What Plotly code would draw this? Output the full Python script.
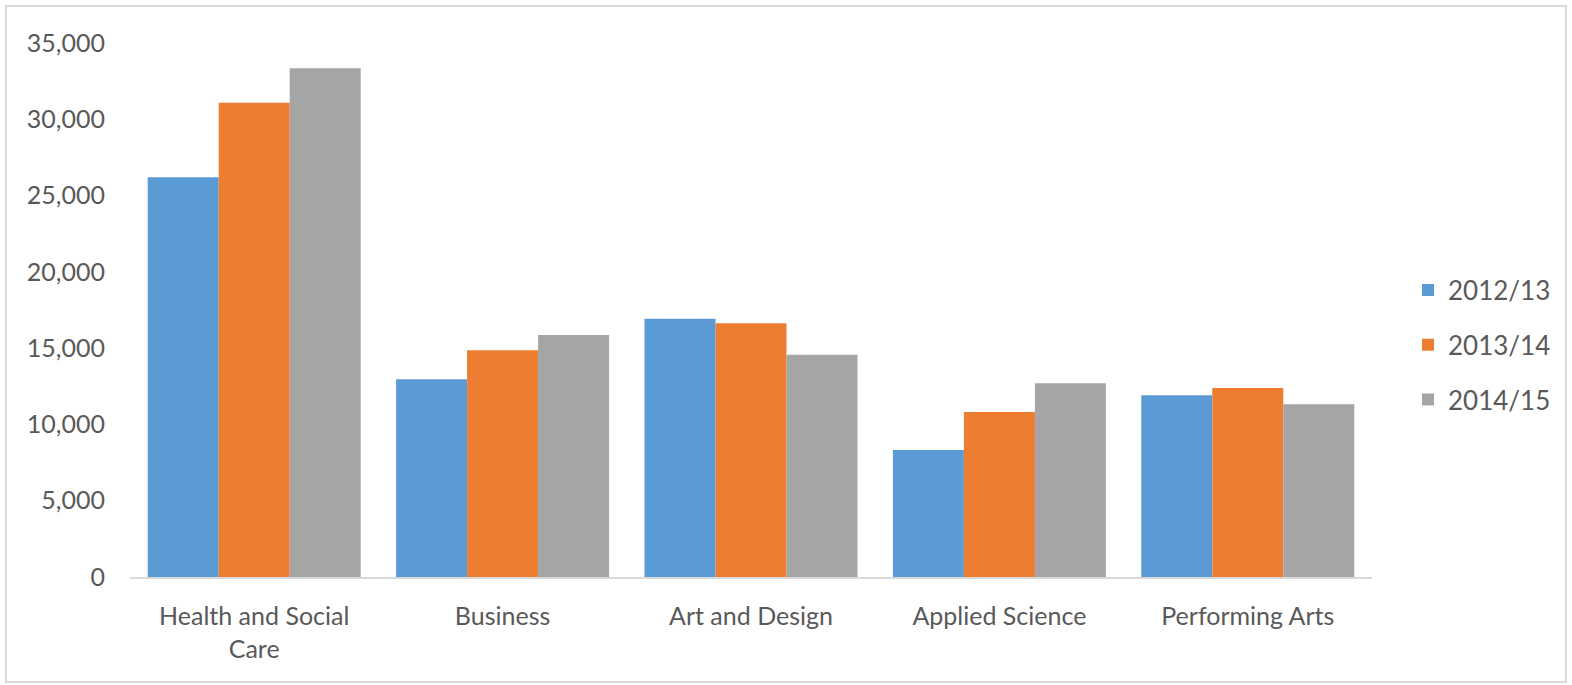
import plotly.graph_objects as go

categories = ["Health and Social<br>Care", "Business", "Art and Design", "Applied Science", "Performing Arts"]
series_names = ["2012/13", "2013/14", "2014/15"]
values_2012 = [26200, 12960, 16930, 8320, 11910]
values_2013 = [31090, 14860, 16630, 10810, 12390]
values_2014 = [33340, 15860, 14570, 12700, 11320]
colors = ["#5B9BD5", "#ED7D31", "#A5A5A5"]
y_ticks = [0, 5000, 10000, 15000, 20000, 25000, 30000, 35000]

W, H = 1572, 685
L, R, T, B = 130, 200, 43, 108
pw, ph = W - L - R, H - T - B

fig = go.Figure()
for i, (name, vals) in enumerate(zip(series_names, [values_2012, values_2013, values_2014])):
    fig.add_trace(go.Bar(x=categories, y=vals, name=name, marker=dict(color=colors[i], line=dict(width=0)),
                         legendgroup=name))

def px_x(p):
    return (p - L) / pw

def px_y(p):
    return (H - B - p) / ph

fig.update_layout(
    width=W, height=H,
    margin=dict(l=L, r=R, t=T, b=B),
    paper_bgcolor="white", plot_bgcolor="white",
    font=dict(family="Lato", size=25, color="#595959"),
    barmode="group", bargap=0.1425, bargroupgap=0,
    showlegend=True,
    legend=dict(x=px_x(1408), xanchor="left", y=px_y(345), yanchor="middle",
                font=dict(size=26, color="#595959"), traceorder="grouped", tracegroupgap=18,
                itemwidth=30),
    shapes=[dict(type="rect", xref="paper", yref="paper",
                 x0=px_x(6), x1=px_x(1566), y0=px_y(682), y1=px_y(6),
                 line=dict(color="#D9D9D9", width=2), fillcolor="rgba(0,0,0,0)", layer="below")],
)
fig.update_xaxes(showgrid=False, showline=True, linecolor="#D9D9D9", linewidth=2,
                 ticks="", ticklabelstandoff=16, tickfont=dict(size=25, color="#595959"))
fig.update_yaxes(range=[0, 35000], tickvals=y_ticks, tickformat=",", showgrid=False, showline=False,
                 zeroline=False, ticks="", ticklabelstandoff=24, tickfont=dict(size=25, color="#595959"))

fig.write_html("out.html")
